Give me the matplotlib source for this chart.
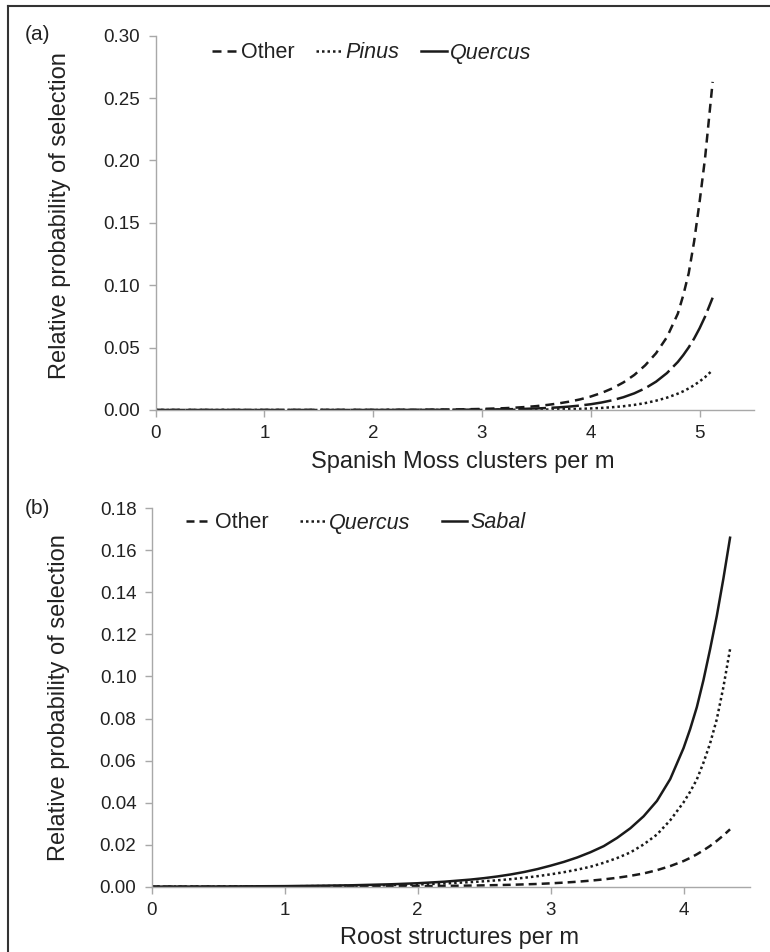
import matplotlib
matplotlib.use("Agg")
import matplotlib.pyplot as plt
from matplotlib.lines import Line2D

plt.rcParams['font.family'] = ['Liberation Sans', 'DejaVu Sans']

# (a) Spanish Moss clusters per m
moss_x = [0, 1, 2, 2.5, 2.8, 3.0, 3.2, 3.3, 3.4, 3.5, 3.6, 3.7, 3.8, 3.9, 4.0, 4.1, 4.2, 4.3, 4.4,
          4.5, 4.6, 4.7, 4.8, 4.85, 4.9, 4.95, 5.0, 5.05, 5.12]
moss_other = [0, 0, 0.00006, 0.00023, 0.0005, 0.00085, 0.00143, 0.00185, 0.0024, 0.00311, 0.00404,
              0.00524, 0.00666, 0.00847, 0.0108, 0.0137, 0.0174, 0.0221, 0.0281, 0.0358, 0.0455,
              0.0584, 0.0772, 0.092, 0.1096, 0.1352, 0.1668, 0.2017, 0.263]
moss_pinus = [0, 0, 0, 0.00002, 0.00004, 0.00006, 0.00012, 0.00016, 0.0002, 0.00027, 0.00037,
              0.0005, 0.00068, 0.00091, 0.00123, 0.00166, 0.00225, 0.00303, 0.0041, 0.00553, 0.00746,
              0.00988, 0.0131, 0.015, 0.0173, 0.0199, 0.0229, 0.0263, 0.032]
moss_quercus = [0, 0, 0.00002, 0.00009, 0.0002, 0.00033, 0.00055, 0.00072, 0.00094, 0.00123, 0.0016,
                0.00209, 0.00272, 0.00355, 0.00463, 0.00603, 0.00786, 0.01025, 0.01336, 0.0174, 0.0227,
                0.0296, 0.0385, 0.044, 0.0502, 0.0573, 0.0655, 0.0748, 0.090]

# (b) Roost structures per m
roost_x = [0, 0.5, 1, 1.5, 1.8, 2.0, 2.2, 2.4, 2.5, 2.6, 2.7, 2.8, 2.9, 3.0, 3.1, 3.2, 3.3, 3.4,
           3.5, 3.6, 3.7, 3.8, 3.9, 4.0, 4.05, 4.1, 4.15, 4.2, 4.25, 4.3, 4.35]
roost_other = [0, 0.00001, 0.00004, 0.0001, 0.00018, 0.00026, 0.00037, 0.00053, 0.00064, 0.00076,
               0.0009, 0.0011, 0.0013, 0.0016, 0.00194, 0.00236, 0.00287, 0.00348, 0.00423, 0.00517,
               0.0063, 0.00786, 0.0098, 0.0122, 0.0137, 0.0154, 0.0173, 0.0194, 0.0218, 0.0244, 0.0273]
roost_quercus = [0.00002, 0.00006, 0.00017, 0.00043, 0.00074, 0.00106, 0.00152, 0.00219, 0.00258,
                 0.00304, 0.00358, 0.00423, 0.00499, 0.00588, 0.0069, 0.0081, 0.0095, 0.01138, 0.01362,
                 0.0163, 0.0201, 0.0248, 0.0316, 0.0401, 0.0452, 0.0510, 0.059, 0.0682, 0.0796, 0.095, 0.113]
roost_sabal = [0.00004, 0.0001, 0.00027, 0.00067, 0.00115, 0.00165, 0.00237, 0.0034, 0.00407, 0.00487,
               0.00583, 0.00698, 0.00836, 0.0100, 0.0118, 0.0139, 0.0164, 0.0193, 0.0232, 0.0278,
               0.0335, 0.0408, 0.0512, 0.0659, 0.075, 0.0854, 0.0983, 0.113, 0.1287, 0.1466, 0.166]

W, H = 770, 952
fig = plt.figure(figsize=(W / 100, H / 100), dpi=100)

def px_axes(left, top, right, bottom):
    return fig.add_axes([left / W, 1 - bottom / H, (right - left) / W, (bottom - top) / H])

ax1 = px_axes(155.5, 35.7, 754, 410)
ax2 = px_axes(151.7, 508.3, 750, 886.7)

ink = '#1a1a1a'
txt = '#222222'
lw = 1.8
dash_other_a = (0, (3.6, 2.4))
dash_quercus_a = (0, (11, 2.2))
dots = (0, (1, 1.2))
dash_other_b = (0, (3.2, 2.0))

ax1.plot(moss_x, moss_other, color=ink, lw=lw, linestyle=dash_other_a)
ax1.plot(moss_x, moss_pinus, color=ink, lw=lw, linestyle=dots)
ax1.plot(moss_x, moss_quercus, color=ink, lw=lw, linestyle=dash_quercus_a)

ax2.plot(roost_x, roost_other, color=ink, lw=lw, linestyle=dash_other_b)
ax2.plot(roost_x, roost_quercus, color=ink, lw=lw, linestyle=dots)
ax2.plot(roost_x, roost_sabal, color=ink, lw=lw, linestyle='-')

ax1.set_xlim(0, 5.5)
ax1.set_ylim(0, 0.30)
ax1.set_xticks([0, 1, 2, 3, 4, 5])
ya = [0, 0.05, 0.10, 0.15, 0.20, 0.25, 0.30]
ax1.set_yticks(ya)
ax1.set_yticklabels(['%.2f' % v for v in ya])

ax2.set_xlim(0, 4.5)
ax2.set_ylim(0, 0.18)
ax2.set_xticks([0, 1, 2, 3, 4])
yb = [0, 0.02, 0.04, 0.06, 0.08, 0.10, 0.12, 0.14, 0.16, 0.18]
ax2.set_yticks(yb)
ax2.set_yticklabels(['%.2f' % v for v in yb])

for ax in (ax1, ax2):
    for s in ('top', 'right'):
        ax.spines[s].set_visible(False)
    for s in ('left', 'bottom'):
        ax.spines[s].set_color('#a8a8a8')
        ax.spines[s].set_linewidth(1.0)
    ax.tick_params(axis='both', direction='out', length=5, width=1.0, color='#a8a8a8',
                   labelsize=13.5, labelcolor=txt, pad=6)
    ax.set_ylabel('Relative probability of selection', fontsize=17, color=txt)
    ax.patch.set_visible(False)

ax1.set_xlabel('Spanish Moss clusters per m', fontsize=17, color=txt)
ax2.set_xlabel('Roost structures per m', fontsize=17, color=txt)

ax1.yaxis.set_label_coords(-0.142, 0.52)
ax2.yaxis.set_label_coords(-0.137, 0.5)
ax1.xaxis.set_label_coords(0.513, -0.139)
ax2.xaxis.set_label_coords(0.515, -0.136)
ax1.xaxis.label.set_va('center')
ax2.xaxis.label.set_va('center')

# legends
def make_legend(ax, styles, labels, italics, anchor, colsp):
    handles = [Line2D([], [], color=ink, lw=lw, linestyle=st) for st in styles]
    leg = ax.legend(handles, labels, ncol=3, loc='center left', bbox_to_anchor=anchor,
                    frameon=False, fontsize=15.5, handlelength=1.2, handletextpad=0.15,
                    columnspacing=colsp, borderpad=0, borderaxespad=0)
    for t, it in zip(leg.get_texts(), italics):
        t.set_color(txt)
        if it:
            t.set_fontstyle('italic')

make_legend(ax1, [dash_other_a, dots, '-'], ['Other', 'Pinus', 'Quercus'],
            [False, True, True], ((212 - 155.5) / 598.5, (410 - 53) / 374.3), 1.0)
make_legend(ax2, [dash_other_b, dots, '-'], ['Other', 'Quercus', 'Sabal'],
            [False, True, True], ((186 - 151.7) / 598.3, (886.7 - 523) / 378.4), 1.45)

fig.text(37 / W, 1 - 35 / H, '(a)', fontsize=15, ha='center', va='center', color=txt)
fig.text(37 / W, 1 - 509 / H, '(b)', fontsize=15, ha='center', va='center', color=txt)

# partial frame around the figure
fig.add_artist(Line2D([8 / W, 8 / W], [0, 1 - 6 / H], color='#333333', lw=1.5))
fig.add_artist(Line2D([8 / W, 1], [1 - 6 / H, 1 - 6 / H], color='#333333', lw=1.5))

fig.savefig('out.png', dpi=100)
